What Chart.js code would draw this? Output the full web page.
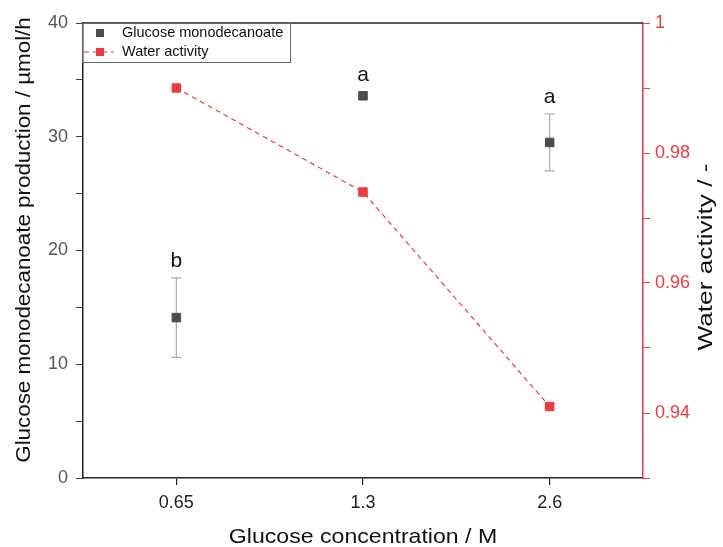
<!DOCTYPE html>
<html>
<head>
<meta charset="utf-8">
<script src="https://cdn.jsdelivr.net/npm/chart.js@4"></script>
<style>
  html, body { margin: 0; padding: 0; background: #fff; }
  #wrap { width: 723px; height: 547px; }
</style>
</head>
<body>
<div id="wrap"><canvas id="chart"></canvas></div>
<script>
const concentrations = ['0.65', '1.3', '2.6'];
const monodecanoate = [14.1, 33.6, 29.5];
const monodecanoateErr = [3.5, 0.3, 2.5];
const significance = ['b', 'a', 'a'];
const waterActivity = [0.990, 0.974, 0.941];

const FONT = '"Liberation Sans", Arial, sans-serif';
const RED = '#f0393f';
const GREY = '#4d4d4d';

// draws a title centred on (x, y), optionally rotated and stretched along its length
function drawTitle(ctx, text, x, y, rot, size, stretch) {
    ctx.save();
    ctx.translate(x, y);
    ctx.rotate(rot);
    ctx.scale(stretch, 1);
    ctx.font = size + 'px ' + FONT;
    ctx.fillStyle = '#111';
    ctx.textAlign = 'center';
    ctx.textBaseline = 'middle';
    ctx.fillText(text, 0, 0);
    ctx.restore();
}

// error bars, letters, titles, legend and the top frame line
const decorations = {
    id: 'decorations',
    beforeDatasetsDraw(chart) {
        const ctx = chart.ctx;
        const x = chart.scales.x, y = chart.scales.y;
        ctx.save();
        ctx.strokeStyle = '#aaaaaa';
        ctx.lineWidth = 1.2;
        monodecanoate.forEach((v, i) => {
            const px = x.getPixelForValue(i);
            const top = y.getPixelForValue(v + monodecanoateErr[i]);
            const bot = y.getPixelForValue(v - monodecanoateErr[i]);
            ctx.beginPath();
            ctx.moveTo(px, top); ctx.lineTo(px, bot);
            ctx.moveTo(px - 5, top); ctx.lineTo(px + 5, top);
            ctx.moveTo(px - 5, bot); ctx.lineTo(px + 5, bot);
            ctx.stroke();
        });
        ctx.restore();
    },
    afterDatasetsDraw(chart) {
        const ctx = chart.ctx;
        const x = chart.scales.x, y = chart.scales.y;
        ctx.save();
        ctx.fillStyle = '#111';
        ctx.font = '21px ' + FONT;
        ctx.textAlign = 'center';
        ctx.textBaseline = 'middle';
        significance.forEach((s, i) => {
            const top = y.getPixelForValue(monodecanoate[i] + monodecanoateErr[i]);
            ctx.fillText(s, x.getPixelForValue(i), top - 17);
        });
        ctx.restore();
    },
    afterDraw(chart) {
        const ctx = chart.ctx;
        const a = chart.chartArea;
        ctx.save();
        // top frame
        ctx.strokeStyle = '#222';
        ctx.lineWidth = 1.5;
        ctx.beginPath();
        ctx.moveTo(a.left, a.top); ctx.lineTo(a.right, a.top);
        ctx.stroke();

        // legend
        ctx.strokeStyle = '#666';
        ctx.lineWidth = 1;
        ctx.strokeRect(a.left - 0.5, a.top + 0.5, 208, 39);
        ctx.fillStyle = GREY;
        ctx.fillRect(96, 29, 8, 8);
        ctx.strokeStyle = RED;
        ctx.lineWidth = 1.2;
        ctx.setLineDash([5, 4]);
        ctx.beginPath();
        ctx.moveTo(84, 52); ctx.lineTo(114, 52);
        ctx.stroke();
        ctx.setLineDash([]);
        ctx.fillStyle = RED;
        ctx.fillRect(96, 48, 8, 8);
        ctx.fillStyle = '#111';
        ctx.font = '14.5px ' + FONT;
        ctx.textBaseline = 'middle';
        ctx.textAlign = 'left';
        ctx.fillText('Glucose monodecanoate', 122, 33);
        ctx.fillText('Water activity', 122, 52);
        ctx.restore();

        // axis titles
        drawTitle(ctx, 'Glucose concentration / M', (a.left + a.right) / 2, 537, 0, 21, 1.1);
        drawTitle(ctx, 'Glucose monodecanoate production / \u00b5mol/h', 24, 240, -Math.PI / 2, 21, 1.065);
        drawTitle(ctx, 'Water activity / -', 706, 257, -Math.PI / 2, 21, 1.25);
    }
};

new Chart(document.getElementById('chart'), {
    type: 'line',
    data: {
        labels: concentrations,
        datasets: [
            {
                label: 'Glucose monodecanoate',
                data: monodecanoate,
                yAxisID: 'y',
                showLine: false,
                pointStyle: 'rect',
                pointRadius: 6,
                pointBorderWidth: 1,
                backgroundColor: GREY,
                borderColor: GREY
            },
            {
                label: 'Water activity',
                data: waterActivity,
                yAxisID: 'y1',
                borderColor: RED,
                backgroundColor: RED,
                borderWidth: 1.2,
                borderDash: [5, 4],
                pointStyle: 'rect',
                pointRadius: 6,
                pointBorderWidth: 1,
                tension: 0
            }
        ]
    },
    options: {
        responsive: true,
        maintainAspectRatio: false,
        animation: false,
        layout: { padding: { top: 23, left: 0, right: 0, bottom: 0 } },
        plugins: {
            legend: { display: false },
            tooltip: { enabled: false }
        },
        scales: {
            x: {
                type: 'category',
                offset: true,
                grid: { drawOnChartArea: false, tickLength: 7, color: '#222', lineWidth: 1.2 },
                border: { color: '#222', width: 1.5 },
                ticks: { color: '#222', font: { family: FONT, size: 18 }, padding: 7 },
                afterFit(scale) { scale.height = 69; }
            },
            y: {
                position: 'left',
                min: 0,
                max: 40,
                grid: { drawOnChartArea: false, tickLength: 7, color: '#444', lineWidth: 1 },
                border: { color: '#222', width: 1.5 },
                ticks: {
                    stepSize: 5,
                    autoSkip: false,
                    color: '#555',
                    font: { family: FONT, size: 18 },
                    padding: 8,
                    callback: v => (v % 10 === 0 ? v : '')
                },
                afterFit(scale) { scale.width = 83; }
            },
            y1: {
                position: 'right',
                min: 0.93,
                max: 1,
                grid: { drawOnChartArea: false, tickLength: 7, color: RED, lineWidth: 1 },
                border: { color: RED, width: 1.5 },
                ticks: {
                    stepSize: 0.01,
                    autoSkip: false,
                    color: RED,
                    font: { family: FONT, size: 18 },
                    padding: 5,
                    callback: v => {
                        const h = Math.round(v * 100);
                        return h % 2 === 0 && h > 93 ? String(h / 100) : '';
                    }
                },
                afterFit(scale) { scale.width = 80; }
            }
        }
    },
    plugins: [decorations]
});
</script>
</body>
</html>
